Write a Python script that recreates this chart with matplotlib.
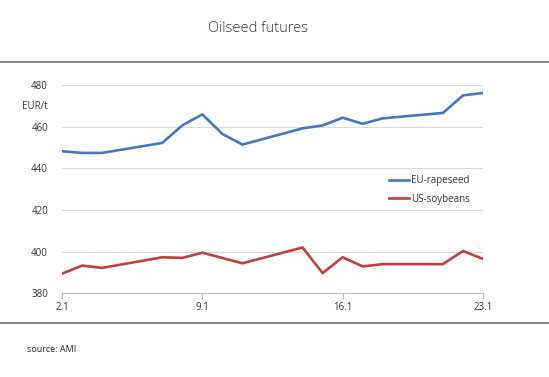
import matplotlib
matplotlib.use("Agg")
from matplotlib import pyplot as plt
from matplotlib.lines import Line2D

plt.rcParams['font.family'] = ['Open Sans', 'DejaVu Sans']

days = [2, 3, 4, 7, 8, 9, 10, 11, 14, 15, 16, 17, 18, 21, 22, 23]
eu_rapeseed = [448.2, 447.4, 447.4, 452.2, 460.6, 465.9, 456.5, 451.4,
               459.2, 460.6, 464.3, 461.4, 464.0, 466.6, 475.0, 476.2]
us_days = [2, 3, 4, 7, 8, 9, 11, 14, 15, 16, 17, 18, 21, 22, 23]
us_soybeans = [389.4, 393.3, 392.2, 397.3, 397.0, 399.5, 394.4, 402.0,
               389.7, 397.3, 392.9, 394.0, 394.0, 400.3, 396.5]
x_ticks = [2, 9, 16, 23]
x_labels = ["2.1", "9.1", "16.1", "23.1"]
y_ticks = [380, 400, 420, 440, 460, 480]

fig = plt.figure(figsize=(5.49, 3.77), dpi=100)
ax = fig.add_axes([0.1129, 0.222, 0.7669, 0.5525])

ax.plot(days, eu_rapeseed, color="#4577bf", lw=1.9, label="EU-rapeseed")
ax.plot(us_days, us_soybeans, color="#c0403f", lw=1.9, label="US-soybeans")

ax.set_xlim(2, 23)
ax.set_ylim(380, 480)
ax.set_xticks(x_ticks)
ax.set_xticklabels(x_labels)
ax.set_yticks(y_ticks)
ax.grid(axis="y", color="#d9d9d9", lw=0.8)
ax.set_axisbelow(True)
for s in ["top", "right", "left"]:
    ax.spines[s].set_visible(False)
ax.spines["bottom"].set_color("#bfbfbf")
ax.tick_params(axis="y", length=0, labelsize=7, colors="#333333", pad=10)
ax.tick_params(axis="x", length=4, color="#bfbfbf", labelsize=7, colors="#333333", pad=2)

ax.legend(loc="upper left", bbox_to_anchor=(0.757, 0.608), frameon=False,
          fontsize=7, handlelength=2.0, handletextpad=0.25, labelspacing=0.75,
          labelcolor="#333333")

fig.text(48 / 549, 1 - 107 / 377, "EUR/t", ha="right", va="center", fontsize=7, color="#333333")
fig.text(258 / 549, 1 - 28 / 377, "Oilseed futures", ha="center", va="center",
         fontsize=10.5, color="#333333", fontweight="light")
fig.text(27 / 549, 1 - 349 / 377, "source: AMI", ha="left", va="center", fontsize=6.5, color="#202020")

fig.add_artist(Line2D([0, 1], [1 - 62 / 377] * 2, color="#707070", lw=1.2, transform=fig.transFigure))
fig.add_artist(Line2D([0, 1], [1 - 323 / 377] * 2, color="#707070", lw=1.2, transform=fig.transFigure))

fig.savefig("out.png", dpi=100)
